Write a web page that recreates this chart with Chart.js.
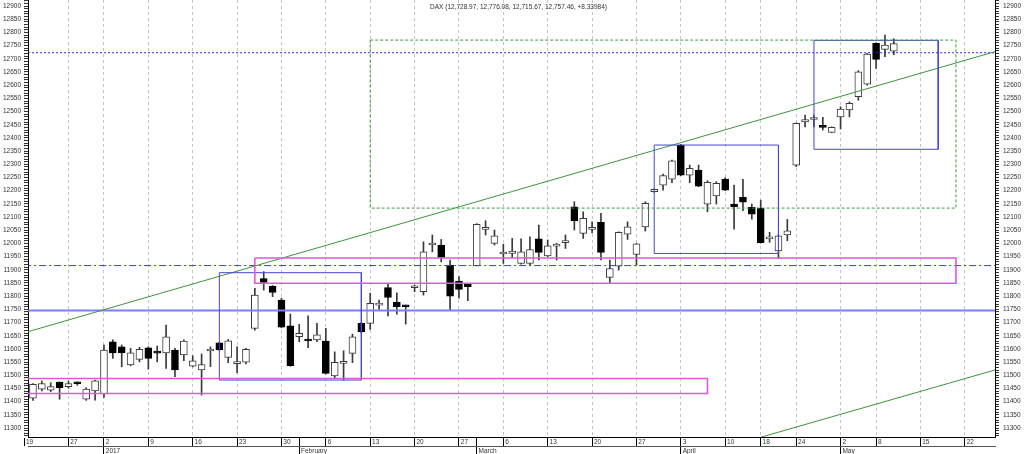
<!DOCTYPE html>
<html>
<head>
<meta charset="utf-8">
<script src="https://cdn.jsdelivr.net/npm/chart.js@4/dist/chart.umd.min.js"></script>
<style>
  html, body { margin: 0; padding: 0; background: #fff; overflow: hidden; }
  #wrap { position: relative; width: 1024px; height: 463px; }
</style>
</head>
<body>
<div id="wrap"><canvas id="graphDax"></canvas></div>
<script>
// calendario de sesiones (Xetra)
var startDay = '2016-12-19'
var endDay = '2017-05-26'
var holidays = ['2016-12-26', '2017-04-14', '2017-04-17', '2017-05-01']
var monthNames = ['January', 'February', 'March', 'April', 'May', 'June', 'July', 'August', 'September', 'October', 'November', 'December']

// velas diarias desde el 20-dic-2016
var firstCandleDay = '2016-12-20'
var open = [11413, 11447, 11444, 11474, 11457, 11473, 11409, 11441, 11429, 11627,
  11608, 11539, 11560, 11604, 11587, 11585, 11596, 11577, 11535, 11520,
  11592, 11623, 11568, 11544, 11550, 11678, 11867, 11838, 11785, 11688,
  11646, 11631, 11634, 11630, 11498, 11545, 11583, 11697, 11697, 11766,
  11833, 11777, 11763, 11832, 11817, 11994, 11994, 11918, 11857, 11845,
  11915, 12053, 12000, 11960, 11962, 11924, 11924, 12017, 11953, 11990,
  12003, 12139, 12038, 12053, 12080, 11871, 11914, 12035, 11958, 12063,
  12196, 12221, 12244, 12373, 12259, 12278, 12149, 12180, 12244, 12149,
  12175, 12137, 12133, 12017, 11972, 12032, 12297, 12461, 12470, 12442,
  12421, 12480, 12506, 12556, 12604, 12759, 12736, 12728.97]
var high = [11469, 11478, 11472, 11475, 11478, 11475, 11453, 11482, 11615, 11634,
  11615, 11602, 11606, 11608, 11611, 11690, 11602, 11634, 11574, 11581,
  11608, 11625, 11636, 11608, 11602, 11830, 11893, 11840, 11792, 11732,
  11693, 11725, 11697, 11678, 11589, 11593, 11656, 11700, 11811, 11785,
  11849, 11813, 11766, 11842, 12006, 12032, 12015, 11937, 11874, 11847,
  12075, 12086, 12051, 11997, 12019, 12017, 12025, 12070, 12013, 12000,
  12032, 12158, 12120, 12082, 12114, 11937, 12044, 12082, 12000, 12158,
  12207, 12263, 12316, 12376, 12297, 12297, 12238, 12234, 12249, 12221,
  12243, 12149, 12164, 12042, 12032, 12091, 12457, 12487, 12487, 12478,
  12442, 12518, 12537, 12655, 12721, 12761, 12790, 12776.08]
var low = [11405, 11441, 11438, 11409, 11451, 11462, 11405, 11406, 11416, 11564,
  11532, 11536, 11551, 11523, 11551, 11526, 11495, 11555, 11532, 11425,
  11533, 11594, 11548, 11510, 11543, 11671, 11823, 11798, 11680, 11534,
  11627, 11605, 11627, 11505, 11488, 11482, 11548, 11660, 11674, 11750,
  11725, 11732, 11694, 11817, 11804, 11968, 11930, 11745, 11792, 11783,
  11915, 12032, 11994, 11924, 11947, 11921, 11918, 11937, 11950, 11937,
  11981, 12051, 12019, 12040, 11937, 11849, 11899, 12015, 11918, 12047,
  12194, 12202, 12230, 12257, 12230, 12215, 12120, 12149, 12200, 12054,
  12124, 12092, 12001, 12004, 11943, 12010, 12291, 12442, 12442, 12430,
  12420, 12434, 12480, 12543, 12600, 12664, 12708, 12715.67]
var close = [11466, 11469, 11457, 11453, 11469, 11468, 11448, 11479, 11596, 11585,
  11585, 11585, 11598, 11564, 11584, 11646, 11520, 11630, 11555, 11541,
  11598, 11596, 11631, 11546, 11598, 11804, 11852, 11814, 11682, 11536,
  11659, 11630, 11653, 11507, 11549, 11547, 11646, 11665, 11773, 11768,
  11795, 11760, 11760, 11834, 11968, 12000, 11947, 11800, 11826, 11836,
  12072, 12061, 12029, 11962, 11971, 11968, 11977, 11966, 11991, 11991,
  12010, 12085, 12095, 12054, 11966, 11905, 12042, 12063, 11998, 12152,
  12205, 12257, 12313, 12259, 12285, 12217, 12232, 12228, 12202, 12139,
  12156, 12111, 12003, 12018, 12029, 12048, 12455, 12470, 12472, 12440,
  12440, 12509, 12531, 12651, 12718, 12698, 12752, 12757.46]

var tituloTexto = 'DAX (12,728.97, 12,776.08, 12,715.67, 12,757.46, +8.33984)'

// dibujos sobre el grafico: [desde, hasta, arriba, abajo]
var blueBoxes = [
  ['2017-01-19', '2017-02-10', 11889, 11482],
  ['2017-03-29', '2017-04-20', 12373, 11962],
  ['2017-04-26', '2017-05-17', 12770, 12357]
]
var pinkBoxes = [
  ['2016-12-19', '2017-04-06', 11488, 11431],
  ['2017-01-25', '2017-05-19', 11945, 11849]
]
var greenBox = ['2017-02-13', '2017-05-19', 12771, 12134]
// lineas de tendencia: [dia, valor, dia, valor]
var trendLines = [
  ['2016-12-19', 11661, '2017-05-26', 12733],
  ['2017-04-18', 11265, '2017-05-26', 11526]
]
var levelDotted = 12723
var levelDashDot = 11916
var levelSolid = 11746

var yMin = 11266
var yMax = 12923
var yTickStep = 10
var yLabelStep = 50

// construir dias habiles
var days = []
var d = new Date(startDay + 'T12:00:00Z')
var end = new Date(endDay + 'T12:00:00Z')
while (d <= end) {
  var iso = d.toISOString().slice(0, 10)
  var wd = d.getUTCDay()
  if (wd !== 0 && wd !== 6 && holidays.indexOf(iso) < 0) days.push(iso)
  d.setUTCDate(d.getUTCDate() + 1)
}
function dayIdx(s) { return days.indexOf(s) }
function weekday(i) { return new Date(days[i] + 'T12:00:00Z').getUTCDay() }

var weekTicks = []
var monthTicks = []
for (var i = 0; i < days.length; i++) {
  if (i === 0 || weekday(i) < weekday(i - 1)) weekTicks.push(i)
  if (i > 0 && days[i].slice(5, 7) !== days[i - 1].slice(5, 7)) monthTicks.push(i)
}
var dayTicks = weekTicks.concat(monthTicks.filter(function (m) { return weekTicks.indexOf(m) < 0 })).sort(function (a, b) { return a - b })

var yTicks = []
for (var v = Math.ceil(yMin / yTickStep) * yTickStep; v <= yMax; v += yTickStep) yTicks.push(v)

var xMin = dayIdx(firstCandleDay) - 0.56
var xMax = dayIdx(firstCandleDay) + 108.4

// velas
var first = dayIdx(firstCandleDay)
var bodyData = open.map(function (o, k) { return { x: first + k, y: [o, close[k]] } })
var wickData = low.map(function (l, k) { return { x: first + k, y: [l, high[k]] } })
var bodyFill = open.map(function (o, k) { return close[k] >= o ? '#ffffff' : '#000000' })
var bodyLine = open.map(function (o, k) { return close[k] >= o ? '#3c3c3c' : '#000000' })

function boxPoints(b) {
  var a = dayIdx(b[0]), z = dayIdx(b[1])
  return [{ x: a, y: b[2] }, { x: z, y: b[2] }, { x: z, y: b[3] }, { x: a, y: b[3] }, { x: a, y: b[2] }]
}
function lineSet(points, color, width, dash) {
  return {
    type: 'line', data: points, borderColor: color, borderWidth: width, borderDash: dash,
    pointRadius: 0, pointHoverRadius: 0, fill: false, tension: 0, order: 0
  }
}
function level(val) {
  return [{ x: 0, y: val }, { x: days.length - 1, y: val }]
}

var overlays = []
overlays.push(lineSet(boxPoints(greenBox), '#3c9a3c', 1, [3, 2]))
pinkBoxes.forEach(function (b) { overlays.push(lineSet(boxPoints(b), '#dc5adc', 1.6, [])) })
blueBoxes.forEach(function (b) { overlays.push(lineSet(boxPoints(b), '#4646d2', 1, [])) })
trendLines.forEach(function (t) {
  overlays.push(lineSet([{ x: dayIdx(t[0]), y: t[1] }, { x: dayIdx(t[2]), y: t[3] }], '#3c963c', 1, []))
})
overlays.push(lineSet(level(levelDotted), '#2c2cd0', 1, [2, 2]))
overlays.push(lineSet(level(levelDashDot), '#3c3cdc', 1, [7, 3, 2, 3]))
overlays.push(lineSet(level(levelSolid), '#7e7eff', 2, []))

var tituloPlugin = {
  id: 'titulo',
  afterDraw: function (chart) {
    var ctx = chart.ctx
    var area = chart.chartArea
    ctx.save()
    ctx.font = '6.5px "Liberation Sans", Arial, sans-serif'
    ctx.fillStyle = '#333'
    ctx.textAlign = 'center'
    ctx.textBaseline = 'middle'
    ctx.fillText(tituloTexto, (area.left + area.right) / 2 + 7, area.top + 7)
    ctx.restore()
  }
}

function createChart() {
  Chart.defaults.font.family = '"Liberation Sans", Arial, sans-serif'
  Chart.defaults.font.size = 6.5
  Chart.defaults.color = '#333'

  const ctx = document.getElementById('graphDax').getContext('2d')
  const yAxis = function (pos, width) {
    return {
      type: 'linear', position: pos, min: yMin, max: yMax,
      afterBuildTicks: function (s) { s.ticks = yTicks.map(function (t) { return { value: t } }) },
      ticks: { autoSkip: false, padding: pos === 'left' ? 3 : 4, callback: function (t) { return t % yLabelStep === 0 ? String(t) : '' } },
      grid: { drawOnChartArea: false, tickLength: 4, tickColor: '#333' },
      border: { display: true, color: '#000' },
      afterFit: function (s) { s.width = width; s.paddingTop = 0; s.paddingBottom = 0 }
    }
  }

  new Chart(ctx, {
    type: 'bar',
    data: {
      datasets: [
        { type: 'bar', label: 'cuerpo', data: bodyData, backgroundColor: bodyFill, borderColor: bodyLine,
          borderWidth: 1, borderSkipped: false, barThickness: 7, grouped: false, minBarLength: 2, order: 1 },
        { type: 'bar', label: 'mecha', data: wickData, backgroundColor: '#3a3a3a',
          barThickness: 1, grouped: false, order: 2 }
      ].concat(overlays)
    },
    options: {
      responsive: true,
      maintainAspectRatio: false,
      animation: false,
      layout: { padding: 0 },
      plugins: { legend: { display: false }, tooltip: { enabled: false } },
      scales: {
        x: {
          type: 'linear', position: 'bottom', weight: 0, min: xMin, max: xMax, offset: false,
          afterBuildTicks: function (s) { s.ticks = dayTicks.map(function (t) { return { value: t } }) },
          ticks: {
            autoSkip: false, maxRotation: 0, minRotation: 0, align: 'start', padding: -8,
            callback: function (t) { return weekTicks.indexOf(t) >= 0 ? ' ' + Number(days[t].slice(8, 10)) : '' }
          },
          grid: {
            offset: false, tickLength: 9, tickColor: '#000', tickBorderDash: [],
            color: function (c) { return c.tick && weekTicks.indexOf(c.tick.value) >= 0 ? '#c4c4c4' : 'rgba(0,0,0,0)' }
          },
          border: { display: true, color: '#000', dash: [3, 3] },
          afterFit: function (s) { s.height = 9; s.paddingLeft = 0; s.paddingRight = 0 }
        },
        x2: {
          type: 'linear', position: 'bottom', weight: 1, min: xMin, max: xMax, offset: false,
          afterBuildTicks: function (s) { s.ticks = monthTicks.map(function (t) { return { value: t } }) },
          ticks: {
            autoSkip: false, maxRotation: 0, minRotation: 0, align: 'start', padding: -8,
            callback: function (t) {
              var m = Number(days[t].slice(5, 7)) - 1
              return ' ' + (m === 0 ? days[t].slice(0, 4) : monthNames[m])
            }
          },
          grid: { drawOnChartArea: false, offset: false, tickLength: 9, tickColor: '#000' },
          border: { display: true, color: '#555' },
          afterFit: function (s) { s.height = 17; s.paddingLeft = 0; s.paddingRight = 0 }
        },
        y: yAxis('left', 28),
        y2: yAxis('right', 29)
      }
    },
    plugins: [tituloPlugin]
  })
}

createChart()
</script>
</body>
</html>
